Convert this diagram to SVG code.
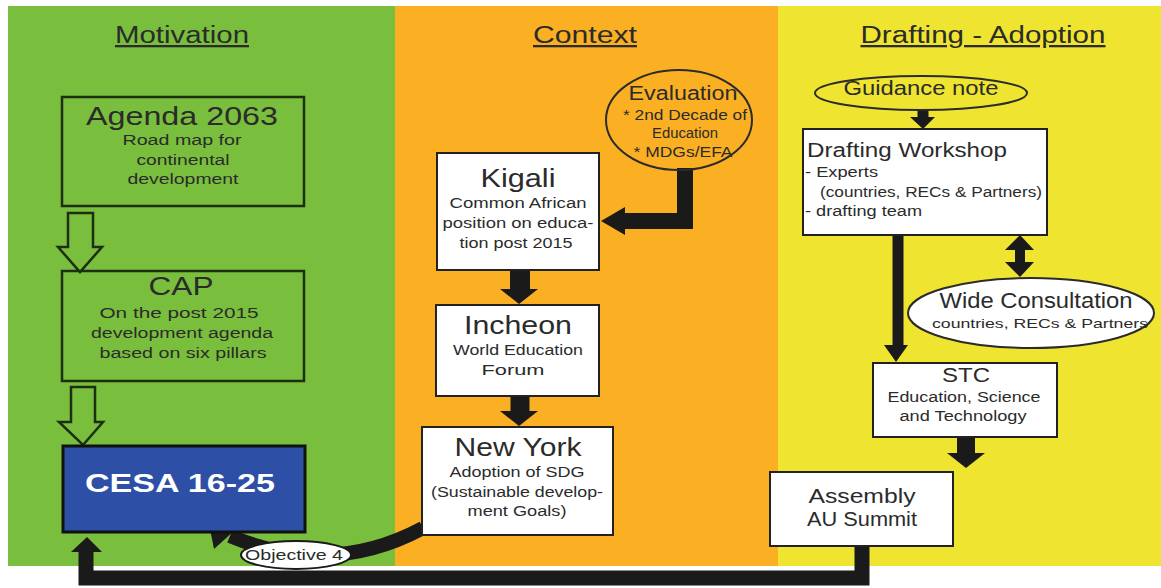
<svg xmlns="http://www.w3.org/2000/svg" width="1161" height="588" viewBox="0 0 1161 588">
<defs>
<style>
text{font-family:"Liberation Sans",Arial,sans-serif;fill:#2b2b2b;text-anchor:middle}
.h{font-size:23px;text-decoration:underline}
.big{font-size:26px}
.mid{font-size:20px}
.sm{font-size:14px}
.l{text-anchor:start}
.box{fill:#fff;stroke:#222;stroke-width:2}
.gbox{fill:none;stroke:#1e2e12;stroke-width:2.5}
.hollow{fill:none;stroke:#1e2e12;stroke-width:2.5;stroke-linejoin:miter}
.con{fill:none;stroke:#1a1a1a;stroke-linejoin:miter}
.head{fill:#1a1a1a}
</style>
</defs>
<rect x="0" y="0" width="1161" height="588" fill="#fff"/>
<rect id="panel-motivation" x="8" y="6" width="387" height="560" fill="#79bf3d"/>
<rect id="panel-context" x="395" y="6" width="383" height="560" fill="#fbaf23"/>
<rect id="panel-drafting" x="778" y="6" width="383" height="560" fill="#efe530"/>

<g id="headings">
<text class="h" x="182" y="43" textLength="134" lengthAdjust="spacingAndGlyphs">Motivation</text>
<text class="h" x="585" y="43" textLength="104" lengthAdjust="spacingAndGlyphs">Context</text>
<text class="h" x="983" y="43" textLength="245" lengthAdjust="spacingAndGlyphs">Drafting - Adoption</text>
</g>

<g id="connectors">
<polygon class="hollow" points="68,213 93,213 93,247 102,247 80,272 58,247 68,247"/>
<polygon class="hollow" points="71,387 95,387 95,422 103,422 83,445 59,422 71,422"/>
<path class="con" d="M685 168 V221 H624" stroke-width="16"/>
<polygon class="head" points="625,207 625,235 601,221"/>
<path class="con" d="M520 270 V290" stroke-width="20"/>
<polygon class="head" points="500,289 538,289 519,304"/>
<path class="con" d="M520 396 V412" stroke-width="19"/>
<polygon class="head" points="500,411 538,411 519,426"/>
<path class="con" d="M423 528 Q 330 578 230 536" stroke-width="14"/>
<polygon class="head" points="207,514 244,522 214,549"/>
<path class="con" d="M862 546 V578 H86 V550" stroke-width="15"/>
<polygon class="head" points="71,552 102,552 87,537"/>
<path class="con" d="M923 110 V118" stroke-width="11"/>
<polygon class="head" points="910,117 935,117 923,129"/>
<path class="con" d="M898 235 V346" stroke-width="11"/>
<polygon class="head" points="884,345 908,345 896,362"/>
<path class="con" d="M1020 249 V263" stroke-width="10"/>
<polygon class="head" points="1005,250 1034,250 1020,235"/>
<polygon class="head" points="1005,262 1034,262 1020,277"/>
<path class="con" d="M966 437 V454" stroke-width="18"/>
<polygon class="head" points="947,453 985,453 966,468"/>
</g>

<g id="agenda2063">
<rect class="gbox" x="62" y="97" width="242" height="109"/>
<text class="big" x="182" y="125" textLength="192" lengthAdjust="spacingAndGlyphs">Agenda 2063</text>
<text class="sm" x="182" y="145" textLength="119" lengthAdjust="spacingAndGlyphs">Road map for</text>
<text class="sm" x="183" y="165" textLength="93" lengthAdjust="spacingAndGlyphs">continental</text>
<text class="sm" x="183" y="184" textLength="111" lengthAdjust="spacingAndGlyphs">development</text>
</g>

<g id="cap">
<rect class="gbox" x="62" y="271" width="242" height="110"/>
<text class="big" x="181" y="295" textLength="65" lengthAdjust="spacingAndGlyphs">CAP</text>
<text class="sm" x="179" y="318" textLength="159" lengthAdjust="spacingAndGlyphs">On the post 2015</text>
<text class="sm" x="182" y="338" textLength="182" lengthAdjust="spacingAndGlyphs">development agenda</text>
<text class="sm" x="183" y="358" textLength="167" lengthAdjust="spacingAndGlyphs">based on six pillars</text>
</g>

<g id="cesa">
<rect x="63" y="446" width="242" height="86" fill="#2d4fa6" stroke="#111" stroke-width="3"/>
<text x="180" y="492" style="font-size:25px;font-weight:bold;fill:#fff" textLength="190" lengthAdjust="spacingAndGlyphs">CESA 16-25</text>
</g>

<g id="objective4">
<ellipse cx="296" cy="555" rx="55" ry="14" fill="#fff" stroke="#1a1a1a" stroke-width="2"/>
<text x="294" y="560" style="font-size:15px" textLength="98" lengthAdjust="spacingAndGlyphs">Objective 4</text>
</g>

<g id="evaluation">
<ellipse cx="679" cy="120" rx="73" ry="50" fill="none" stroke="#2b2b2b" stroke-width="2"/>
<text class="mid" x="683" y="100" textLength="109" lengthAdjust="spacingAndGlyphs">Evaluation</text>
<text class="sm" x="685" y="120" textLength="124" lengthAdjust="spacingAndGlyphs">* 2nd Decade of</text>
<text class="sm" x="685" y="138" textLength="66" lengthAdjust="spacingAndGlyphs">Education</text>
<text class="sm" x="683" y="157" textLength="99" lengthAdjust="spacingAndGlyphs">* MDGs/EFA</text>
</g>

<g id="kigali">
<rect class="box" x="437" y="153" width="162" height="117"/>
<text class="big" x="518" y="187" textLength="75" lengthAdjust="spacingAndGlyphs">Kigali</text>
<text class="sm" x="518" y="208" textLength="137" lengthAdjust="spacingAndGlyphs">Common African</text>
<text class="sm" x="518" y="228" textLength="151" lengthAdjust="spacingAndGlyphs">position on educa-</text>
<text class="sm" x="516" y="248" textLength="113" lengthAdjust="spacingAndGlyphs">tion post 2015</text>
</g>

<g id="incheon">
<rect class="box" x="436" y="305" width="163" height="91"/>
<text class="big" x="518" y="334" textLength="108" lengthAdjust="spacingAndGlyphs">Incheon</text>
<text class="sm" x="518" y="355" textLength="130" lengthAdjust="spacingAndGlyphs">World Education</text>
<text class="sm" x="513" y="375" textLength="63" lengthAdjust="spacingAndGlyphs">Forum</text>
</g>

<g id="newyork">
<rect class="box" x="422" y="427" width="191" height="108"/>
<text class="big" x="518" y="456" textLength="127" lengthAdjust="spacingAndGlyphs">New York</text>
<text class="sm" x="517" y="477" textLength="135" lengthAdjust="spacingAndGlyphs">Adoption of SDG</text>
<text class="sm" x="517" y="497" textLength="172" lengthAdjust="spacingAndGlyphs">(Sustainable develop-</text>
<text class="sm" x="517" y="516" textLength="99" lengthAdjust="spacingAndGlyphs">ment Goals)</text>
</g>

<g id="guidance">
<ellipse cx="921" cy="93" rx="106" ry="17" fill="none" stroke="#2b2b2b" stroke-width="2"/>
<text class="mid" x="921" y="95" textLength="155" lengthAdjust="spacingAndGlyphs">Guidance note</text>
</g>

<g id="drafting-workshop">
<rect class="box" x="803" y="129" width="244" height="106"/>
<text class="mid l" x="807" y="157" textLength="200" lengthAdjust="spacingAndGlyphs">Drafting Workshop</text>
<text class="sm l" x="805" y="177" textLength="73" lengthAdjust="spacingAndGlyphs">- Experts</text>
<text class="sm l" x="820" y="197" textLength="222" lengthAdjust="spacingAndGlyphs">(countries, RECs &amp; Partners)</text>
<text class="sm l" x="805" y="216" textLength="117" lengthAdjust="spacingAndGlyphs">- drafting team</text>
</g>

<g id="wide-consultation">
<ellipse cx="1031" cy="313" rx="123" ry="35" fill="#fff" stroke="#2b2b2b" stroke-width="2"/>
<text x="1036" y="308" style="font-size:22px" textLength="193" lengthAdjust="spacingAndGlyphs">Wide Consultation</text>
<text x="1040" y="328" style="font-size:13px" textLength="216" lengthAdjust="spacingAndGlyphs">countries, RECs &amp; Partners</text>
</g>

<g id="stc">
<rect class="box" x="873" y="363" width="184" height="74"/>
<text class="mid" x="966" y="382" textLength="48" lengthAdjust="spacingAndGlyphs">STC</text>
<text class="sm" x="964" y="402" textLength="153" lengthAdjust="spacingAndGlyphs">Education, Science</text>
<text class="sm" x="963" y="421" textLength="127" lengthAdjust="spacingAndGlyphs">and Technology</text>
</g>

<g id="assembly">
<rect class="box" x="770" y="472" width="183" height="74"/>
<text class="mid" x="862" y="503" textLength="107" lengthAdjust="spacingAndGlyphs">Assembly</text>
<text class="mid" x="862" y="526" textLength="110" lengthAdjust="spacingAndGlyphs">AU Summit</text>
</g>
</svg>
